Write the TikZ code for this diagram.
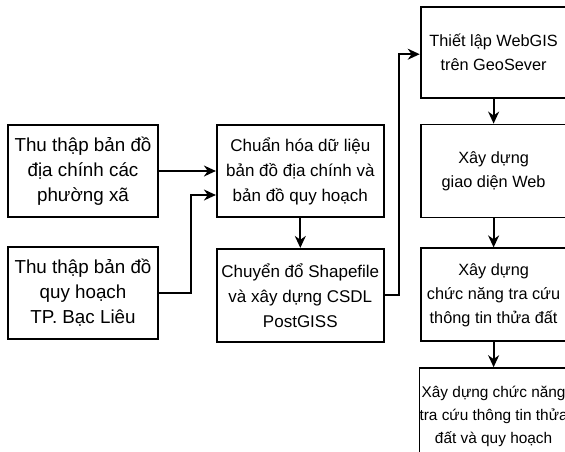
\documentclass[tikz,border=0pt]{standalone}
\usepackage{fontspec}
\setmainfont{Liberation Sans}
\usetikzlibrary{arrows.meta, positioning}
\tikzset{
  block/.style={rectangle, draw=black, line width=0.9pt, inner sep=0pt,
                align=center, minimum width=75pt, minimum height=46pt,
                font=\fontsize{9.4}{12.5}\selectfont},
  midblock/.style={block, minimum width=83.5pt,
                font=\fontsize{8.5}{12.5}\selectfont},
  webblock/.style={block, minimum width=73pt, minimum height=46.5pt,
                font=\fontsize{8.15}{12}\selectfont},
  arrow/.style={-{Stealth[length=6pt, width=5.5pt]}, line width=0.9pt},
}
\begin{document}
\begin{tikzpicture}
  \clip (0,0) rectangle (282.5pt,225.5pt);
  % input maps
  \node[block] (diachinh) at (41.5pt,140pt) {Thu thập bản đồ\\địa chính các\\phường xã};
  \node[block, below=14pt of diachinh] (quyhoach) {Thu thập bản đồ\\quy hoạch\\TP. Bạc Liêu};
  % data preparation
  \node[midblock, right=28.5pt of diachinh] (chuanhoa) {Chuẩn hóa dữ liệu\\bản đồ địa chính và\\bản đồ quy hoạch};
  \node[midblock, below=15pt of chuanhoa, minimum height=46.5pt] (shapefile) {Chuyển đổ Shapefile\\và xây dựng CSDL\\PostGISS};
  % web part
  \node[webblock, right=17.5pt of chuanhoa] (giaodien) {Xây dựng\\giao diện Web};
  \node[webblock, above=12.5pt of giaodien, minimum height=45.5pt] (webgis) {Thiết lập WebGIS\\trên GeoSever};
  \node[webblock, below=14.5pt of giaodien] (tracuu) {Xây dựng\\chức năng tra cứu\\thông tin thửa đất};
  \node[webblock, below=12.5pt of tracuu, minimum height=48pt,
        font=\fontsize{7.7}{11.5}\selectfont] (tracuuqh) {Xây dựng chức năng\\tra cứu thông tin thửa\\đất và quy hoạch};
  % connectors
  \draw[arrow] (diachinh.east) -- (diachinh.east -| chuanhoa.west);
  \draw[arrow] (quyhoach.east) -- ++(16pt,0) |- ([yshift=-12pt]chuanhoa.west);
  \draw[arrow] (chuanhoa) -- (shapefile);
  \draw[arrow] (shapefile.east) -- ++(7pt,0) |- ([yshift=-1pt]webgis.west);
  \draw[arrow] (webgis) -- (giaodien);
  \draw[arrow] (giaodien) -- (tracuu);
  \draw[arrow] (tracuu) -- (tracuuqh);
\end{tikzpicture}
\end{document}
